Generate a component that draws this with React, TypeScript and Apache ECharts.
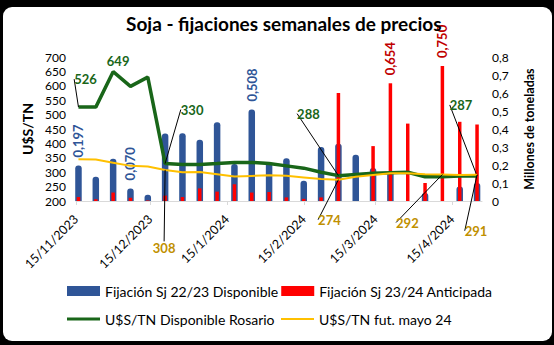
import React, { useEffect, useRef } from "react";
import * as echarts from "echarts";

const weeks = [
  "2023-11-16", "2023-11-23", "2023-11-30", "2023-12-07", "2023-12-14", "2023-12-21",
  "2023-12-28", "2024-01-04", "2024-01-11", "2024-01-18", "2024-01-25", "2024-02-01",
  "2024-02-08", "2024-02-15", "2024-02-22", "2024-02-29", "2024-03-07", "2024-03-14",
  "2024-03-21", "2024-03-28", "2024-04-04", "2024-04-11", "2024-04-18", "2024-04-25",
];
const disponible2223 = [
  0.197, 0.135, 0.235, 0.070, 0.035, 0.375, 0.377, 0.340, 0.438, 0.205, 0.508, 0.215,
  0.238, 0.112, 0.300, 0.318, 0.257, 0.183, 0.165, 0, 0.045, 0, 0.080, 0.100,
];
const anticipada2324 = [
  0.022, 0.010, 0.047, 0.018, 0.003, 0.030, 0.022, 0.070, 0.052, 0.093, 0.047, 0.050,
  0.020, 0.012, 0.020, 0.600, 0, 0.305, 0.654, 0.430, 0.100, 0.750, 0.440, 0.425,
];
const rosario = [
  526, 526, 649, 598, 630, 330, 327, 327, 330, 334, 334, 330,
  322, 314, 300, 288, 292, 296, 298, 300, 284, 284, 287, 287,
];
const futMayo = [
  345, 344, 333, 322, 320, 308, 300, 301, 293, 285, 287, 289,
  288, 282, 276, 274, 284, 290, 296, 296, 293, 292, 290, 291,
];
const tickDates = ["2023-11-15", "2023-12-15", "2024-01-15", "2024-02-15", "2024-03-15", "2024-04-15"];
const axisMinDate = "2023-11-15";
const axisMaxDate = "2024-04-27";

const labeledBlue = [0, 3, 10];
const labeledRed = [18, 21];
const labeledGreen = [0, 2, 5, 15, 23];
const labeledGold = [5, 15, 21, 23];

// label offsets (layout only)
const greenOffsets: Record<number, [number, number]> = {
  0: [7, -28], 2: [5, -11], 5: [27, -54], 15: [-30, -62], 23: [-16, -71],
};
const goldOffsets: Record<number, [number, number]> = {
  5: [-1, 78], 15: [-9, 40], 21: [-35, 48], 23: [-1, 56],
};

const toTime = (s: string) => {
  const [y, m, d] = s.split("-").map(Number);
  return new Date(y, m - 1, d).getTime();
};
const fmtDate = (t: number) => {
  const d = new Date(t);
  return `${d.getDate()}/${d.getMonth() + 1}/${d.getFullYear()}`;
};
const comma = (v: number, n: number) => v.toFixed(n).replace(".", ",");

const FONT = "Lato";
const BLUE = "#2F5597";
const RED = "#FF0000";
const GREEN = "#196619";
const GOLD = "#FFC000";

export default function App() {
  const ref = useRef<HTMLDivElement>(null);
  useEffect(() => {
    if (!ref.current) return;
    const chart = echarts.init(ref.current, undefined, { renderer: "svg" });
    const times = weeks.map(toTime);

    const barData = (vals: number[], labeled: number[], color: string) =>
      vals.map((v, i) =>
        labeled.includes(i)
          ? {
              value: [times[i], v],
              label: {
                show: true,
                position: "top",
                rotate: 90,
                align: "left",
                verticalAlign: "middle",
                distance: 8,
                color,
                fontWeight: "bold",
                fontSize: 13,
                fontFamily: FONT,
                formatter: (p: any) => comma(p.value[1], 3),
              },
            }
          : { value: [times[i], v] }
      );

    const lineData = (vals: number[], labeled: number[], color: string, noLine: number[]) =>
      vals.map((v, i) =>
        labeled.includes(i)
          ? {
              value: [times[i], v],
              label: {
                show: true,
                position: "inside",
                color,
                fontWeight: "bold",
                fontSize: 13,
                fontFamily: FONT,
                formatter: (p: any) => String(p.value[1]),
              },
              labelLine: { show: !noLine.includes(i) },
            }
          : { value: [times[i], v] }
      );

    const ticks = tickDates.map(toTime);
    const xMin = toTime(axisMinDate);
    const xMax = toTime(axisMaxDate);
    const legendText = { fontFamily: FONT, fontSize: 14, color: "#000" };

    chart.setOption({
      animation: false,
      textStyle: { fontFamily: FONT },
      title: {
        text: "Soja - fijaciones semanales de precios",
        left: 121,
        top: 9,
        textStyle: { fontFamily: FONT, fontWeight: "bold", fontSize: 19, color: "#000" },
      },
      legend: [
        {
          data: [
            { name: "Fijación Sj 22/23 Disponible", icon: "rect" },
            { name: "Fijación Sj 23/24 Anticipada", icon: "rect" },
          ],
          left: 62,
          top: 279,
          itemWidth: 33,
          itemHeight: 10,
          itemGap: 3,
          textStyle: legendText,
        },
        {
          data: [{ name: "U$S/TN Disponible Rosario", icon: "rect" }],
          left: 62,
          top: 307,
          itemWidth: 33,
          itemHeight: 3,
          textStyle: legendText,
        },
        {
          data: [{ name: "U$S/TN fut. mayo 24", icon: "rect" }],
          left: 276,
          top: 307,
          itemWidth: 33,
          itemHeight: 2,
          textStyle: legendText,
        },
      ],
      grid: { left: 76, right: 72, top: 57, bottom: 144 },
      xAxis: [
        {
          type: "value",
          min: xMin,
          max: xMax,
          axisLine: { show: true, lineStyle: { color: "#D9D9D9" } },
          axisTick: { show: true, customValues: ticks, length: 4, lineStyle: { color: "#D9D9D9" } },
          splitLine: { show: false },
          axisLabel: {
            customValues: ticks,
            rotate: 45,
            fontSize: 12.5,
            fontFamily: FONT,
            color: "#000",
            margin: 16,
            formatter: (v: number) => fmtDate(v),
          },
        },
        {
          type: "value",
          min: xMin,
          max: xMax,
          show: false,
          splitLine: { show: false },
        },
      ],
      yAxis: [
        {
          type: "value",
          min: 200,
          max: 700,
          interval: 50,
          name: "U$S/TN",
          nameLocation: "middle",
          nameGap: 38,
          nameTextStyle: { fontFamily: FONT, fontWeight: "bold", fontSize: 14, color: "#000" },
          axisLine: { show: false },
          axisTick: { show: false },
          splitLine: { show: false },
          axisLabel: { fontSize: 12, fontFamily: FONT, color: "#000", margin: 10 },
        },
        {
          type: "value",
          min: 0,
          max: 0.8,
          interval: 0.1,
          name: "Millones de toneladas",
          nameLocation: "middle",
          nameGap: 41,
          nameTextStyle: { fontFamily: FONT, fontWeight: "bold", fontSize: 12.5, color: "#000" },
          axisLine: { show: false },
          axisTick: { show: false },
          splitLine: { show: false },
          axisLabel: {
            fontSize: 12,
            fontFamily: FONT,
            color: "#000",
            margin: 10,
            formatter: (v: number) => (v === 0 ? "0" : comma(v, 1)),
          },
        },
      ],
      series: [
        {
          name: "Fijación Sj 22/23 Disponible",
          type: "bar",
          xAxisIndex: 0,
          yAxisIndex: 1,
          barWidth: 6.5,
          itemStyle: { color: BLUE, borderRadius: [3, 3, 0, 0] },
          data: barData(disponible2223, labeledBlue, BLUE),
          z: 2,
        },
        {
          name: "Fijación Sj 23/24 Anticipada",
          type: "bar",
          xAxisIndex: 1,
          yAxisIndex: 1,
          barWidth: 3.5,
          itemStyle: { color: RED },
          data: barData(anticipada2324, labeledRed, "#C00000"),
          z: 3,
        },
        {
          name: "U$S/TN Disponible Rosario",
          type: "line",
          xAxisIndex: 0,
          yAxisIndex: 0,
          symbol: "circle",
          symbolSize: 0,
          showSymbol: true,
          showAllSymbol: true,
          lineStyle: { color: GREEN, width: 3.5 },
          itemStyle: { color: GREEN },
          data: lineData(rosario, labeledGreen, GREEN, [2]),
          labelLine: { show: true, length2: 5, lineStyle: { color: "#000", width: 1 } },
          labelLayout: (p: any) => {
            const o = greenOffsets[p.dataIndex];
            return o ? { dx: o[0], dy: o[1] } : {};
          },
          z: 4,
        },
        {
          name: "U$S/TN fut. mayo 24",
          type: "line",
          xAxisIndex: 0,
          yAxisIndex: 0,
          symbol: "circle",
          symbolSize: 0,
          showSymbol: true,
          showAllSymbol: true,
          lineStyle: { color: GOLD, width: 2 },
          itemStyle: { color: GOLD },
          data: lineData(futMayo, labeledGold, "#BF9000", []),
          labelLine: { show: true, length2: 5, lineStyle: { color: "#000", width: 1 } },
          labelLayout: (p: any) => {
            const o = goldOffsets[p.dataIndex];
            return o ? { dx: o[0], dy: o[1] } : {};
          },
          z: 5,
        },
      ],
    });
    return () => chart.dispose();
  }, []);

  return (
    <div style={{ position: "fixed", left: 0, top: 0, width: 554, height: 345, background: "#000" }}>
      <div
        style={{
          position: "absolute",
          left: 3,
          top: 7,
          width: 549,
          height: 334,
          background: "#fff",
          borderRadius: 9,
        }}
      />
      <div ref={ref} style={{ position: "absolute", left: 0, top: 0, width: 554, height: 345 }} />
    </div>
  );
}
